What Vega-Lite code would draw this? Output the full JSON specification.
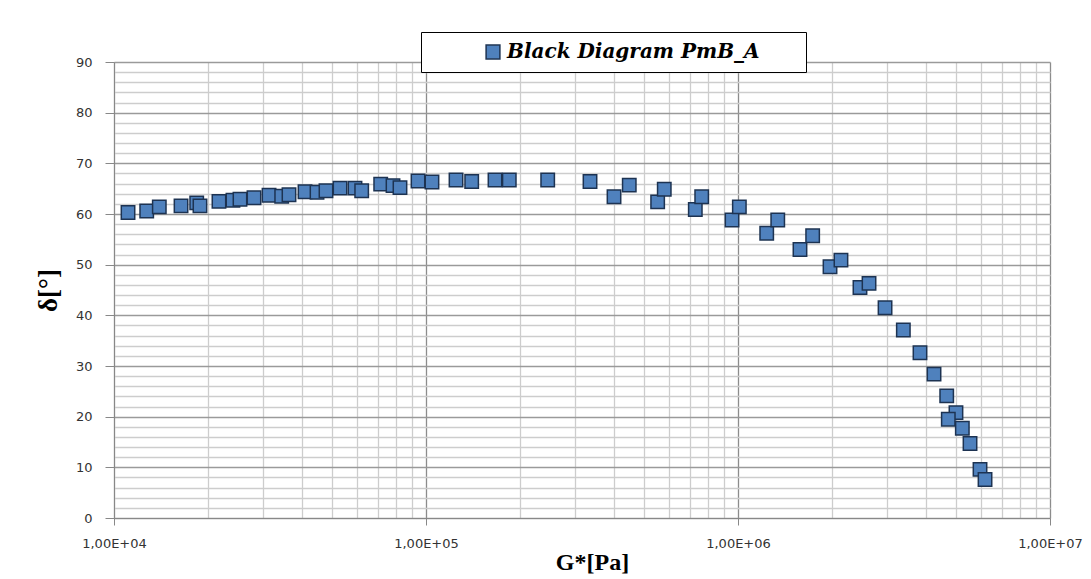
{
  "$schema": "https://vega.github.io/schema/vega-lite/v6.json",
  "width": 936,
  "height": 456,
  "autosize": {"type": "none"},
  "padding": {"left": 114, "top": 62, "right": 41, "bottom": 61},
  "background": "white",
  "config": {"view": {"stroke": null}},
  "data": {
    "values": [
      {"G": 11090, "delta": 60.3, "series": "Black Diagram PmB_A"},
      {"G": 12730, "delta": 60.6, "series": "Black Diagram PmB_A"},
      {"G": 13970, "delta": 61.4, "series": "Black Diagram PmB_A"},
      {"G": 16400, "delta": 61.6, "series": "Black Diagram PmB_A"},
      {"G": 18410, "delta": 62.2, "series": "Black Diagram PmB_A"},
      {"G": 18860, "delta": 61.6, "series": "Black Diagram PmB_A"},
      {"G": 21700, "delta": 62.5, "series": "Black Diagram PmB_A"},
      {"G": 24060, "delta": 62.7, "series": "Black Diagram PmB_A"},
      {"G": 25340, "delta": 62.9, "series": "Black Diagram PmB_A"},
      {"G": 28100, "delta": 63.2, "series": "Black Diagram PmB_A"},
      {"G": 31400, "delta": 63.7, "series": "Black Diagram PmB_A"},
      {"G": 34470, "delta": 63.5, "series": "Black Diagram PmB_A"},
      {"G": 36380, "delta": 63.8, "series": "Black Diagram PmB_A"},
      {"G": 40950, "delta": 64.4, "series": "Black Diagram PmB_A"},
      {"G": 44740, "delta": 64.3, "series": "Black Diagram PmB_A"},
      {"G": 47800, "delta": 64.6, "series": "Black Diagram PmB_A"},
      {"G": 53020, "delta": 65.1, "series": "Black Diagram PmB_A"},
      {"G": 59210, "delta": 65.1, "series": "Black Diagram PmB_A"},
      {"G": 62210, "delta": 64.6, "series": "Black Diagram PmB_A"},
      {"G": 71580, "delta": 65.9, "series": "Black Diagram PmB_A"},
      {"G": 78390, "delta": 65.6, "series": "Black Diagram PmB_A"},
      {"G": 82530, "delta": 65.2, "series": "Black Diagram PmB_A"},
      {"G": 94280, "delta": 66.5, "series": "Black Diagram PmB_A"},
      {"G": 104500, "delta": 66.3, "series": "Black Diagram PmB_A"},
      {"G": 124800, "delta": 66.7, "series": "Black Diagram PmB_A"},
      {"G": 140100, "delta": 66.4, "series": "Black Diagram PmB_A"},
      {"G": 166400, "delta": 66.7, "series": "Black Diagram PmB_A"},
      {"G": 184900, "delta": 66.7, "series": "Black Diagram PmB_A"},
      {"G": 245500, "delta": 66.7, "series": "Black Diagram PmB_A"},
      {"G": 335500, "delta": 66.4, "series": "Black Diagram PmB_A"},
      {"G": 400500, "delta": 63.4, "series": "Black Diagram PmB_A"},
      {"G": 448200, "delta": 65.7, "series": "Black Diagram PmB_A"},
      {"G": 552700, "delta": 62.4, "series": "Black Diagram PmB_A"},
      {"G": 580300, "delta": 64.9, "series": "Black Diagram PmB_A"},
      {"G": 729700, "delta": 60.9, "series": "Black Diagram PmB_A"},
      {"G": 765000, "delta": 63.4, "series": "Black Diagram PmB_A"},
      {"G": 956800, "delta": 58.8, "series": "Black Diagram PmB_A"},
      {"G": 1010000, "delta": 61.4, "series": "Black Diagram PmB_A"},
      {"G": 1236000, "delta": 56.2, "series": "Black Diagram PmB_A"},
      {"G": 1341000, "delta": 58.8, "series": "Black Diagram PmB_A"},
      {"G": 1580000, "delta": 53.0, "series": "Black Diagram PmB_A"},
      {"G": 1735000, "delta": 55.7, "series": "Black Diagram PmB_A"},
      {"G": 1972000, "delta": 49.6, "series": "Black Diagram PmB_A"},
      {"G": 2138000, "delta": 50.9, "series": "Black Diagram PmB_A"},
      {"G": 2460000, "delta": 45.5, "series": "Black Diagram PmB_A"},
      {"G": 2630000, "delta": 46.3, "series": "Black Diagram PmB_A"},
      {"G": 2960000, "delta": 41.5, "series": "Black Diagram PmB_A"},
      {"G": 3388000, "delta": 37.1, "series": "Black Diagram PmB_A"},
      {"G": 3831000, "delta": 32.6, "series": "Black Diagram PmB_A"},
      {"G": 4249000, "delta": 28.4, "series": "Black Diagram PmB_A"},
      {"G": 4666000, "delta": 24.1, "series": "Black Diagram PmB_A"},
      {"G": 4996000, "delta": 20.8, "series": "Black Diagram PmB_A"},
      {"G": 4721000, "delta": 19.5, "series": "Black Diagram PmB_A"},
      {"G": 5236000, "delta": 17.7, "series": "Black Diagram PmB_A"},
      {"G": 5542000, "delta": 14.7, "series": "Black Diagram PmB_A"},
      {"G": 5966000, "delta": 9.6, "series": "Black Diagram PmB_A"},
      {"G": 6191000, "delta": 7.6, "series": "Black Diagram PmB_A"}
    ]
  },
  "mark": {"type": "point", "shape": "square", "filled": true, "size": 180, "opacity": 1, "stroke": "#1d3352", "strokeWidth": 1.5},
  "encoding": {
    "x": {
      "field": "G",
      "type": "quantitative",
      "scale": {"type": "log", "domain": [10000, 10000000], "nice": false},
      "axis": {
        "title": "G*[Pa]",
        "titleFont": "Liberation Serif",
        "titleFontSize": 24,
        "titleFontWeight": "bold",
        "titleColor": "#000",
        "titlePadding": 0,
        "titleX": 478,
        "values": [10000, 20000, 30000, 40000, 50000, 60000, 70000, 80000, 90000, 100000, 200000, 300000, 400000, 500000, 600000, 700000, 800000, 900000, 1000000, 2000000, 3000000, 4000000, 5000000, 6000000, 7000000, 8000000, 9000000, 10000000],
        "labelExpr": "abs(log(datum.value)/LN10 - round(log(datum.value)/LN10)) < 0.001 ? '1,00E+0' + round(log(datum.value)/LN10) : ''",
        "labelFont": "DejaVu Sans",
        "labelFontSize": 13,
        "labelColor": "#333",
        "labelFlush": false,
        "labelOverlap": false,
        "labelBound": false,
        "labelPadding": 12,
        "tickSize": 7,
        "tickColor": "#888",
        "tickOpacity": {"condition": {"test": "abs(log(datum.value)/LN10 - round(log(datum.value)/LN10)) < 0.001", "value": 1}, "value": 0},
        "domainColor": "#888",
        "grid": true,
        "gridColor": {"condition": {"test": "abs(log(datum.value)/LN10 - round(log(datum.value)/LN10)) < 0.001", "value": "#8c8c8c"}, "value": "#cdcdcd"},
        "gridWidth": 1.3
      }
    },
    "y": {
      "field": "delta",
      "type": "quantitative",
      "scale": {"domain": [0, 90], "nice": false},
      "axis": {
        "title": "δ[°]",
        "titleFont": "Liberation Serif",
        "titleFontSize": 27,
        "titleFontWeight": "bold",
        "titleColor": "#000",
        "titlePadding": 13,
        "values": [0, 2, 4, 6, 8, 10, 12, 14, 16, 18, 20, 22, 24, 26, 28, 30, 32, 34, 36, 38, 40, 42, 44, 46, 48, 50, 52, 54, 56, 58, 60, 62, 64, 66, 68, 70, 72, 74, 76, 78, 80, 82, 84, 86, 88, 90],
        "labelExpr": "datum.value % 10 == 0 ? datum.label : ''",
        "labelFont": "DejaVu Sans",
        "labelFontSize": 13,
        "labelColor": "#333",
        "labelPadding": 13,
        "labelOverlap": false,
        "labelBound": false,
        "labelFlush": false,
        "tickSize": 9,
        "tickColor": "#888",
        "tickOpacity": {"condition": {"test": "datum.value % 10 == 0", "value": 1}, "value": 0},
        "domainColor": "#888",
        "grid": true,
        "gridColor": {"condition": {"test": "datum.value % 10 == 0", "value": "#9a9a9a"}, "value": "#cdcdcd"},
        "gridWidth": 1.3
      }
    },
    "color": {
      "field": "series",
      "type": "nominal",
      "scale": {"range": ["#4f81bd"]},
      "legend": {
        "title": "\u00a0",
        "titleOrient": "right",
        "titlePadding": 36,
        "titleFontSize": 10,
        "orient": "none",
        "legendX": 307,
        "legendY": -30,
        "strokeColor": "#000",
        "fillColor": "#fff",
        "padding": 10,
        "symbolType": "square",
        "symbolSize": 190,
        "symbolStrokeColor": "#1d3352",
        "symbolStrokeWidth": 1.5,
        "symbolOffset": 52,
        "labelOffset": 4,
        "labelFont": "DejaVu Serif",
        "labelFontSize": 20,
        "labelFontWeight": "bold",
        "labelFontStyle": "italic",
        "labelColor": "#000",
        "labelLimit": 600
      }
    }
  }
}
